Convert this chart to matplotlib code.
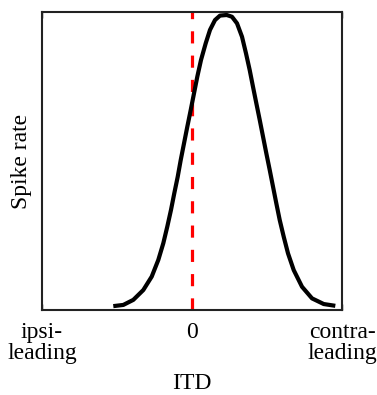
import numpy as np
import matplotlib
matplotlib.use("Agg")
import matplotlib.pyplot as plt

plt.rcParams["font.family"] = ["Liberation Serif", "DejaVu Serif"]

# -----------------------------
# Tuning curve (ITD in arbitrary units, rate normalised)
# -----------------------------
itd = [-0.787, -0.687, -0.587, -0.487, -0.403, -0.337, -0.287, -0.247,
       -0.21, -0.177, -0.143, -0.113, -0.08, -0.047, -0.013, 0.02, 0.053,
       0.09, 0.137, 0.18, 0.23, 0.28, 0.347,
       0.40, 0.45, 0.50, 0.54, 0.577, 0.61, 0.643, 0.677, 0.71, 0.743,
       0.777, 0.81, 0.843, 0.877, 0.917, 0.96, 1.017, 1.10, 1.20, 1.317,
       1.433]
rate = [0.013, 0.017, 0.034, 0.067, 0.112, 0.168, 0.224, 0.280,
        0.336, 0.392, 0.447, 0.503, 0.559, 0.615, 0.671, 0.727, 0.783,
        0.839, 0.895, 0.940, 0.973, 0.988, 0.990,
        0.984, 0.962, 0.917, 0.861, 0.805, 0.749, 0.694, 0.638, 0.582, 0.526,
        0.470, 0.414, 0.358, 0.302, 0.246, 0.190, 0.134, 0.078, 0.039, 0.020,
        0.014]

tick_pos = [-1.5, 0.0, 1.5]
tick_labels = ["ipsi-\nleading", "0", "contra-\nleading"]

fig = plt.figure(figsize=(3.77, 3.95), dpi=100)
ax = fig.add_axes([0.1114, 0.2152, 0.7958, 0.7544])

ax.plot(itd, rate, color="black", lw=3.0, solid_capstyle="butt",
        solid_joinstyle="round", zorder=3)
vl = ax.axvline(0.0, color="#ff0000", lw=2.3, zorder=2)
vl.set_dashes((3.8, 3.8))

ax.set_xlim(-1.5, 1.5)
ax.set_ylim(0, 1.0)
ax.set_yticks([])
ax.set_xticks(tick_pos)
ax.set_xticklabels(tick_labels, fontsize=17, linespacing=0.95)
ax.tick_params(axis="x", direction="in", length=4, width=1.0, top=True,
               pad=9)

for sp in ax.spines.values():
    sp.set_linewidth(1.5)
    sp.set_color("#222222")

ax.set_xlabel("ITD", fontsize=17, labelpad=7)
ax.set_ylabel("Spike rate", fontsize=17, labelpad=7)

fig.savefig("out.png", dpi=100)
